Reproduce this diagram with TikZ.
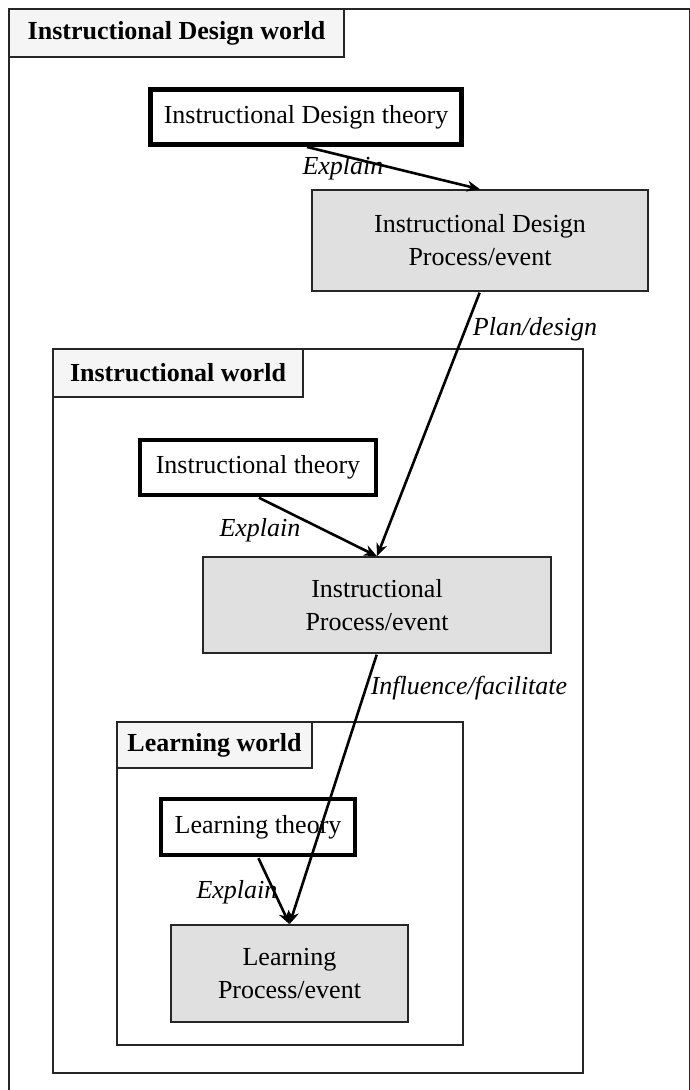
\documentclass[tikz,border=0pt]{standalone}
\usepackage{fontspec}
\setmainfont{Liberation Serif}
\usetikzlibrary{arrows.meta}
\colorlet{process fill color}{black!12}
\colorlet{title fill color}{black!4}
\tikzset{
    x={1pt},
    y={-1pt},
    world frame/.style={
        draw=black!85,
        line width={1.5pt},
    },
    world title/.style={
        draw=black!85, fill=title fill color,
        line width={1.5pt},
        anchor=north west,
        font={\fontsize{26}{33}\selectfont\bfseries},
        inner sep=0pt, outer sep=0pt,
    },
    theory/.style={
        draw=black, fill=white,
        line width={4.5pt},
        font={\fontsize{26}{33}\selectfont},
        inner sep=0pt,
    },
    process/.style={
        draw=black!85, fill=process fill color,
        line width={1.5pt},
        align=center,
        font={\fontsize{26}{33}\selectfont},
        inner sep=0pt,
    },
    relation/.style={
        draw=black,
        line width={2.6pt},
        -{Stealth[length=13pt,width=11pt]},
        shorten <=1pt,
    },
    edge label/.style={
        font={\fontsize{26}{33}\selectfont\itshape},
        inner sep=0pt,
    },
}

\begin{document}
\begin{tikzpicture}
\useasboundingbox[fill=white] (0,0) rectangle (690,1090);
% worlds
\path[world frame] (9,9) rectangle (690,1094);
\node[world title, minimum width={335}, minimum height={48}] (idworld) at (9,9) {Instructional Design world};
\path[world frame] (53,349) rectangle (583,1073);
\node[world title, minimum width={250}, minimum height={48}] (iworld) at (53,349) {Instructional world};
\path[world frame] (117,722) rectangle (463,1045);
\node[world title, minimum width={195}, minimum height={46}] (lworld) at (117,722) {Learning world};
% theories and processes
\node[theory, minimum width={311}, minimum height={55}] (idtheory) at (306,117) {Instructional Design theory};
\node[process, minimum width={336}, minimum height={101}] (idprocess) at (480,240.5) {Instructional Design\\Process/event};
\node[theory, minimum width={236}, minimum height={55}] (itheory) at (258,467.5) {Instructional theory};
\node[process, minimum width={348}, minimum height={96}] (iprocess) at (377,605) {Instructional\\Process/event};
\node[theory, minimum width={194}, minimum height={56}] (ltheory) at (258,827) {Learning theory};
\node[process, minimum width={237}, minimum height={97}] (lprocess) at (289.5,973.5) {Learning\\Process/event};
% labels
\node[edge label] (explainid) at (343,168) {Explain};
\node[edge label] (plan) at (535,329) {Plan/design};
\node[edge label] (explaini) at (260,530) {Explain};
\node[edge label] (influence) at (469,688) {Influence/facilitate};
\node[edge label] (explainl) at (237,892) {Explain};
% relations
\draw[relation] (idtheory.south) -- (idprocess.north);
\draw[relation] (idprocess.south) -- (iprocess.north);
\draw[relation] (itheory.south) -- (iprocess.north);
\draw[relation] (iprocess.south) -- (lprocess.north);
\draw[relation] (ltheory.south) -- (lprocess.north);
\end{tikzpicture}
\end{document}
